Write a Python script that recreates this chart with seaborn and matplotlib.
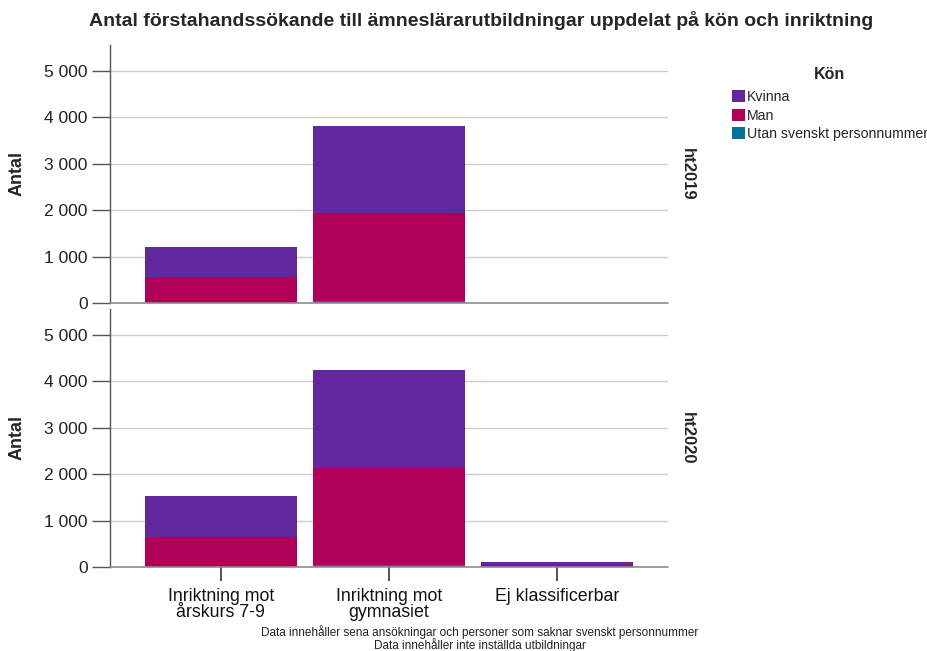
import numpy as np
import pandas as pd
import matplotlib
matplotlib.use("Agg")
import matplotlib.pyplot as plt
from matplotlib.patches import Patch
from matplotlib.ticker import FuncFormatter
from matplotlib import font_manager
import seaborn as sns

sns.set_theme(style="white")
plt.rcParams['font.family'] = ['Liberation Sans', 'DejaVu Sans']

categories = ["Inriktning mot\nårskurs 7-9", "Inriktning mot\ngymnasiet", "Ej klassificerbar"]
terms = ["ht2019", "ht2020"]
genders = ["Kvinna", "Man", "Utan svenskt personnummer"]

kvinna_2019 = [650, 1875, 0]
man_2019 = [550, 1900, 0]
utan_2019 = [10, 40, 0]

kvinna_2020 = [883, 2111, 55]
man_2020 = [637, 2094, 50]
utan_2020 = [10, 40, 0]

colors = {"Kvinna": "#62269e", "Man": "#b0005a", "Utan svenskt personnummer": "#03739a"}

values = {
    "ht2019": {"Kvinna": kvinna_2019, "Man": man_2019, "Utan svenskt personnummer": utan_2019},
    "ht2020": {"Kvinna": kvinna_2020, "Man": man_2020, "Utan svenskt personnummer": utan_2020},
}

fig = plt.figure(figsize=(9.28, 6.51), dpi=100)
W, H = 928, 651
def ax_rect(l, t, r, b):
    return [l / W, 1 - b / H, (r - l) / W, (b - t) / H]

axes = [fig.add_axes(ax_rect(110, 45, 668, 303)), fig.add_axes(ax_rect(110, 309, 668, 567))]
ymax = 5560
fmt = FuncFormatter(lambda v, p: f"{int(v):,}".replace(",", " "))

for i, (ax, term) in enumerate(zip(axes, terms)):
    d = values[term]
    utan = np.array(d["Utan svenskt personnummer"])
    man = np.array(d["Man"])
    kv = np.array(d["Kvinna"])
    layers = [("Kvinna", utan + man + kv), ("Man", utan + man), ("Utan svenskt personnummer", utan)]
    for g, cum in layers:
        df = pd.DataFrame({"Inriktning": categories, "Antal": cum})
        sns.barplot(data=df, x="Inriktning", y="Antal", order=categories, color=colors[g],
                    saturation=1, width=0.905, errorbar=None, ax=ax, linewidth=0, zorder=3)
    ax.set_xlim(-0.66, 2.66)
    ax.set_ylim(0, ymax)
    ax.set_yticks([0, 1000, 2000, 3000, 4000, 5000])
    ax.yaxis.set_major_formatter(fmt)
    ax.grid(False)
    for yv in [1000, 2000, 3000, 4000, 5000]:
        ax.axhline(yv, color="#cccccc", lw=1, zorder=1)
    ax.axhline(0, color="#8c8c8c", lw=1.2, zorder=4, clip_on=False)
    for s in ["top", "right", "bottom"]:
        ax.spines[s].set_visible(False)
    ax.spines["left"].set_color("#555555")
    ax.spines["left"].set_linewidth(1)
    ax.tick_params(axis="y", which="both", left=True, length=13, width=1, color="#555555",
                   labelsize=12.5, labelcolor="#222222", pad=3)
    ax.set_ylabel("Antal", fontsize=13, fontweight="bold")
    ax.yaxis.set_label_coords((26 - 110) / 558, 0.5)
    ax.set_facecolor("white")
    ax.text(1.022, 0.5, term, transform=ax.transAxes, rotation=-90, fontsize=12,
            fontweight="bold", ha="left", va="center")
    ax.set_xlabel("")
    if i == 0:
        ax.tick_params(axis="x", bottom=False, labelbottom=False)
    else:
        ax.tick_params(axis="x", bottom=True, length=10, width=1.3, color="#444444",
                       labelsize=12.8, labelcolor="#111111", pad=5)
        for lab in ax.get_xticklabels():
            lab.set_linespacing(0.95)

fig.text(481 / W, 1 - 20 / H, "Antal förstahandssökande till ämneslärarutbildningar uppdelat på kön och inriktning",
         ha="center", va="center", fontsize=14, fontweight="bold")

handles = [Patch(facecolor=colors[g], edgecolor="none", label=g) for g in genders]
leg = fig.legend(handles=handles, title="Kön", loc="upper left",
                 bbox_to_anchor=(722 / W, 1 - 57 / H), frameon=False, fontsize=10.2,
                 title_fontproperties={"weight": "bold", "size": 11.5},
                 handlelength=0.95, handleheight=0.95, handletextpad=0.1, labelspacing=0.3,
                 borderpad=0.2)
leg._legend_box.sep = 6

names = {f.name for f in font_manager.fontManager.ttflist}
if "Liberation Sans Narrow" in names:
    foot_family, foot_size = ["Liberation Sans Narrow", "Liberation Sans"], 9.2
else:
    foot_family, foot_size = ["Liberation Sans", "DejaVu Sans"], 8.5
fig.text(480 / W, 1 - 632 / H, "Data innehåller sena ansökningar och personer som saknar svenskt personnummer",
         ha="center", va="center", fontsize=foot_size, family=foot_family, color="#222222")
fig.text(480 / W, 1 - 645 / H, "Data innehåller inte inställda utbildningar",
         ha="center", va="center", fontsize=foot_size, family=foot_family, color="#222222")

fig.savefig("out.png", dpi=100, facecolor="white")
